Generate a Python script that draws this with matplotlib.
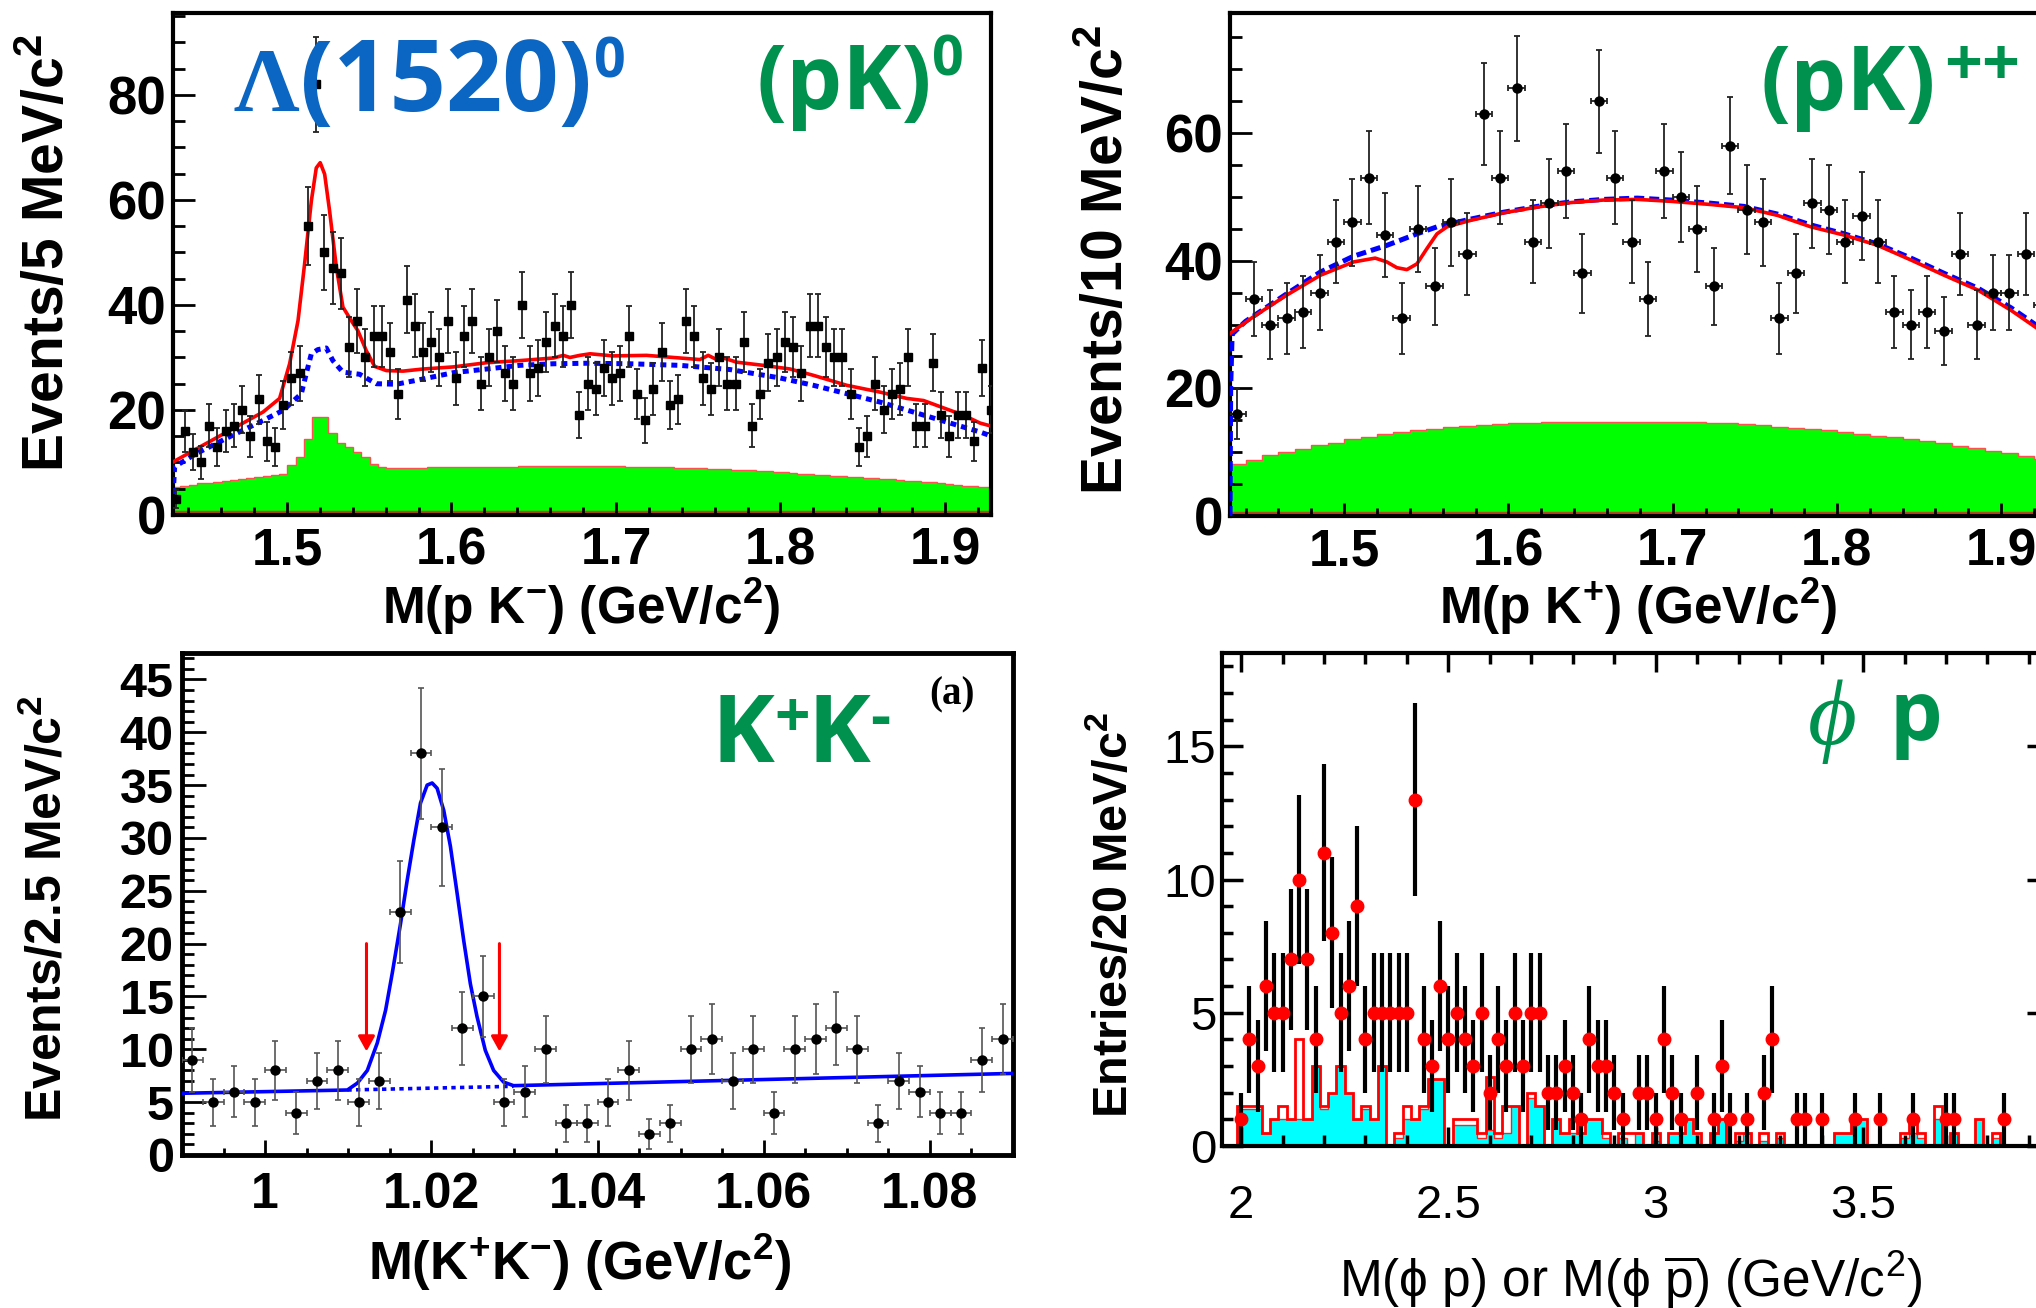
import numpy as np
import matplotlib
matplotlib.use("Agg")
import matplotlib.pyplot as plt
from matplotlib.ticker import MultipleLocator

plt.rcParams.update({
    "mathtext.fontset": "custom",
    "mathtext.default": "regular",
    "mathtext.rm": "Liberation Sans",
    "mathtext.bf": "Liberation Sans:bold",
    "mathtext.it": "Liberation Sans:italic",
    "mathtext.sf": "Liberation Sans",
})

SANS = ["Liberation Sans", "DejaVu Sans"]
NARROW = ["Liberation Sans Narrow", "Liberation Sans", "DejaVu Sans"]
LOGO = ["Open Sans", "DejaVu Sans"]
SERIF = ["Liberation Serif", "DejaVu Serif"]
GREEN = "#00914f"
BLUE_TXT = "#0a66c2"

# ---------------- top left: M(p K-) ----------------
tl_x0, tl_bw = 1.4327, 0.005
tl_counts = [3, 16, 12, 10, 17, 13, 16, 17, 20, 15,
             22, 14, 13, 21, 26, 27, 55, 82, 50, 47,
             46, 32, 37, 30, 34, 34, 31, 23, 41, 36,
             31, 33, 30, 37, 26, 34, 37, 25, 30, 35,
             27, 25, 40, 27, 28, 33, 36, 34, 40, 19,
             25, 24, 28, 26, 27, 34, 23, 18, 24, 31,
             21, 22, 37, 34, 26, 24, 30, 25, 25, 33,
             17, 23, 29, 30, 33, 32, 27, 36, 36, 32,
             30, 30, 23, 13, 15, 25, 20, 23, 24, 30,
             17, 17, 29, 19, 15, 19, 19, 14, 28, 20]
tl_bkg = [5.4, 5.6, 5.8, 6.0, 6.1, 6.3, 6.5, 6.6, 6.8, 7.0, 7.2, 7.4, 7.6, 7.9,
          9.5, 11.1, 14.4, 18.7, 18.7, 15.6, 13.7, 13.0, 12.0, 11.1, 9.8, 9.2,
          9.0, 9.0, 9.0, 9.0, 9.0, 9.1, 9.1, 9.1, 9.1, 9.1, 9.2, 9.2, 9.2, 9.2, 9.2,
          9.2, 9.3, 9.3, 9.3, 9.3, 9.3, 9.3, 9.3, 9.4, 9.4, 9.3, 9.3, 9.3, 9.3, 9.2,
          9.2, 9.2, 9.1, 9.1, 9.1, 9.0, 9.0, 8.9, 8.9, 8.8, 8.8, 8.7, 8.6, 8.6, 8.5,
          8.4, 8.3, 8.2, 8.1, 8.0, 7.9, 7.8, 7.7, 7.6, 7.5, 7.4, 7.3, 7.2, 7.1, 7.0,
          6.9, 6.8, 6.6, 6.5, 6.4, 6.3, 6.2, 6.0, 5.9, 5.8, 5.6, 5.5, 5.4, 5.3]
tl_fit_x = [1.4307, 1.449, 1.4692, 1.4854, 1.4955, 1.5016, 1.5067, 1.5107, 1.5148,
            1.5178, 1.5202, 1.5229, 1.5259, 1.530, 1.534, 1.5391, 1.5431, 1.5482,
            1.5533, 1.5604, 1.5705, 1.5827, 1.601, 1.6213, 1.6415, 1.662, 1.668,
            1.672, 1.678, 1.6843, 1.6983, 1.7186, 1.7389, 1.751, 1.7561, 1.7612,
            1.7653, 1.7734, 1.7896, 1.8059, 1.82, 1.8403, 1.8606, 1.8768, 1.887,
            1.8991, 1.9113, 1.9214, 1.9285]
tl_fit_y = [10.1, 13.3, 16.8, 19.6, 22.2, 28.8, 37.0, 47.8, 59.8,
            66.1, 67.1, 64.9, 57.9, 47.2, 39.6, 37.0, 35.1, 31.3,
            28.3, 27.5, 27.4, 27.8, 28.2, 29.0, 29.4, 29.9, 30.4,
            30.0, 30.4, 30.7, 30.3, 30.4, 29.9, 29.6, 30.4, 29.6,
            29.9, 29.1, 28.5, 27.8, 26.6, 24.7, 23.4, 22.2, 21.8,
            20.4, 19.0, 17.5, 16.9]
tl_bg_x = [1.4308, 1.4317, 1.4448, 1.4651, 1.4854, 1.4975, 1.5087, 1.5117, 1.5148,
           1.5188, 1.5239, 1.5279, 1.534, 1.5442, 1.5543, 1.5665, 1.5827, 1.601,
           1.6213, 1.6415, 1.662, 1.6823, 1.7085, 1.7389, 1.7693, 1.7997, 1.82,
           1.8403, 1.8606, 1.8809, 1.9011, 1.9214, 1.9285]
tl_bg_y = [4.0, 9.2, 11.7, 14.9, 18.0, 19.9, 23.1, 26.9, 30.7,
           31.5, 31.8, 29.4, 27.2, 26.8, 25.0, 24.9, 25.9, 27.1,
           27.8, 28.5, 28.8, 28.9, 28.8, 28.5, 27.7, 26.1, 24.7,
           23.1, 21.5, 19.6, 17.7, 15.8, 15.0]

# ---------------- top right: M(p K+) ----------------
tr_x0, tr_bw = 1.435, 0.010
tr_counts = [16, 34, 30, 31, 32, 35, 43, 46, 53, 44,
             31, 45, 36, 46, 41, 63, 53, 67, 43, 49,
             54, 38, 65, 53, 43, 34, 54, 50, 45, 36,
             58, 48, 46, 31, 38, 49, 48, 43, 47, 43,
             32, 30, 32, 29, 41, 30, 35, 35, 41, 33]
tr_bkg = [8.2, 8.8, 9.5, 10.0, 10.5, 11.1, 11.5, 12.0, 12.4, 12.8,
          13.1, 13.4, 13.7, 13.9, 14.1, 14.3, 14.4, 14.5, 14.6, 14.7,
          14.7, 14.8, 14.8, 14.8, 14.8, 14.8, 14.8, 14.7, 14.7, 14.6,
          14.5, 14.4, 14.2, 14.0, 13.8, 13.6, 13.4, 13.2, 12.9, 12.6,
          12.4, 12.1, 11.8, 11.4, 11.0, 10.6, 10.2, 9.8, 9.4, 9.0]
tr_fit_x = [1.4305, 1.4447, 1.465, 1.4854, 1.5057, 1.5189, 1.526, 1.5321, 1.5382,
            1.5443, 1.5504, 1.5565, 1.5626, 1.5768, 1.5972, 1.6175, 1.6378, 1.6581,
            1.6785, 1.6988, 1.7232, 1.7435, 1.7638, 1.7841, 1.8045, 1.8248, 1.8451,
            1.8654, 1.8858, 1.9061, 1.9264]
tr_fit_y = [28.6, 31.2, 34.6, 37.7, 39.8, 40.4, 39.8, 38.9, 38.6,
            39.5, 41.9, 44.2, 45.3, 46.3, 47.5, 48.4, 49.1, 49.5,
            49.6, 49.3, 48.8, 48.3, 47.1, 45.3, 44.0, 42.4, 40.1,
            37.7, 35.4, 32.2, 28.6]
tr_bg_x = [1.4305, 1.4309, 1.4318, 1.44, 1.465, 1.4854, 1.5057, 1.526, 1.5443,
           1.5565, 1.5768, 1.5972, 1.6175, 1.6378, 1.6581, 1.6785, 1.6988, 1.7232,
           1.7435, 1.7638, 1.7841, 1.8045, 1.8248, 1.8451, 1.8654, 1.8858, 1.9061,
           1.9264]
tr_bg_y = [0.0, 20.0, 28.5, 30.5, 34.8, 38.2, 40.7, 42.4, 44.2,
           45.3, 46.5, 47.6, 48.5, 49.2, 49.6, 49.8, 49.5, 49.0,
           48.5, 47.3, 45.6, 44.2, 42.6, 40.4, 38.0, 35.7, 32.6,
           29.0]

# ---------------- bottom left: M(K+K-) ----------------
bl_x0, bl_bw = 0.99125, 0.0025
bl_counts = [9, 5, 6, 5, 8, 4, 7, 8, 5, 7,
             23, 38, 31, 12, 15, 5, 6, 10, 3, 3,
             5, 8, 2, 3, 10, 11, 7, 10, 4, 10,
             11, 12, 10, 3, 7, 6, 4, 4, 9, 11]
bl_fit_x = [0.990, 1.0099, 1.0111, 1.0123, 1.0135, 1.0145, 1.0153, 1.0163, 1.0171,
            1.0179, 1.0187, 1.0195, 1.0201, 1.0207, 1.0215, 1.0223, 1.0231, 1.0239,
            1.0247, 1.0255, 1.0265, 1.0275, 1.0287, 1.0299, 1.090]
bl_fit_y = [5.84, 6.15, 6.8, 8.0, 10.6, 13.7, 17.2, 21.9, 26.0,
            29.8, 33.3, 35.0, 35.2, 34.7, 32.6, 29.2, 24.8, 20.3,
            16.2, 13.1, 9.9, 8.0, 6.9, 6.56, 7.72]
bl_bg_x = [1.0099, 1.0299]
bl_bg_y = [6.15, 6.5]
bl_cut_x = [1.0122, 1.0282]
bl_cut_top, bl_cut_tip = 20.0, 9.8

# ---------------- bottom right: M(phi p) ----------------
br_x0, br_bw = 2.00, 0.02
br_counts = [1, 4, 3, 6, 5, 5, 7, 10, 7, 4,
             11, 8, 5, 6, 9, 4, 5, 5, 5, 5,
             5, 13, 4, 3, 6, 4, 5, 4, 3, 5,
             2, 4, 3, 5, 3, 5, 5, 2, 2, 3,
             2, 1, 4, 3, 3, 2, 1, 0, 2, 2,
             1, 4, 2, 1, 0, 2, 0, 1, 3, 1,
             0, 1, 0, 2, 4, 0, 0, 1, 1, 0,
             1, 0, 0, 0, 1, 0, 0, 1, 0, 0,
             0, 1, 0, 0, 0, 1, 1, 0, 0, 0,
             0, 0, 1, 0, 0, 0]
br_side = [1.5, 1.5, 1.5, 0.5, 1.0, 1.5, 1.0, 4.0, 1.0, 3.0,
           1.5, 2.0, 3.0, 2.0, 1.0, 1.5, 1.0, 3.0, 0, 0.5,
           1.5, 1.0, 1.5, 2.5, 2.5, 0, 1.0, 1.0, 1.0, 0.5,
           2.6, 0.5, 1.5, 1.5, 0, 2.0, 1.5, 0, 1.0, 0.5,
           1.0, 0.5, 1.0, 1.0, 0.5, 0, 0.5, 0.5, 0.5, 0,
           0.5, 0, 0.5, 0.5, 1.0, 0.5, 0, 0.5, 1.0, 0,
           0.5, 0.5, 0, 0.5, 0, 0.5, 0, 0, 0, 0,
           0, 0, 0.5, 0.5, 1.0, 1.0, 0, 0, 0, 0,
           0.5, 1.0, 0.5, 0, 1.5, 0, 0.5, 0, 0, 1.0,
           0, 0.5, 0, 0, 0, 0]
br_mc = [1.4, 1.4, 1.4, 0.5, 1.0, 1.0, 1.0, 1.0, 1.0, 3.0,
         1.4, 2.0, 3.0, 2.0, 1.0, 1.4, 1.0, 3.0, 0, 0.3,
         1.0, 1.0, 1.4, 2.5, 2.5, 0, 0.8, 0.8, 0.8, 0.3,
         0.6, 0.3, 0.5, 1.5, 0, 1.8, 1.5, 0, 1.0, 0.5,
         0.5, 0.5, 1.0, 1.0, 0.3, 0, 0.3, 0, 0.5, 0,
         0.2, 0, 0.5, 0.5, 1.0, 0.5, 0, 0.5, 1.0, 0,
         0.2, 0.5, 0, 0.2, 0, 0.3, 0, 0, 0, 0,
         0, 0, 0.5, 0.5, 1.0, 1.0, 0, 0, 0, 0,
         0.3, 0.5, 0.3, 0, 1.0, 0, 0.5, 0, 0, 1.0,
         0, 0.3, 0, 0, 0, 0]

# ---------------- figure ----------------
W, H = 2036.0, 1308.0
fig = plt.figure(figsize=(W / 100, H / 100), dpi=100)


def box(l, t, r, b):
    return [l / W, 1 - b / H, (r - l) / W, (b - t) / H]


def put(x, y, s, **kw):
    fig.text(x / W, 1 - y / H, s, **kw)


def ticks(ax, ymaj, ymin, xmaj, xmin, w=2.0):
    ax.tick_params(which="both", direction="in", width=w)
    ax.tick_params(axis="y", which="major", length=ymaj)
    ax.tick_params(axis="y", which="minor", length=ymin)
    ax.tick_params(axis="x", which="major", length=xmaj)
    ax.tick_params(axis="x", which="minor", length=xmin)


def centers(x0, bw, n):
    return x0 + bw * np.arange(n)


# top left
ax1 = fig.add_axes(box(173, 13, 991, 515))
n = len(tl_counts)
x = centers(tl_x0, tl_bw, n)
edges = centers(tl_x0 - tl_bw / 2, tl_bw, n + 1)
ax1.stairs(tl_bkg, edges, fill=True, color="#00ff00", zorder=1)
ax1.stairs(tl_bkg, edges, color="#ff5050", lw=1.0, zorder=1.1)
ax1.axhline(0.5, color="#b04a20", lw=2.5, zorder=1.2)
ax1.plot(tl_bg_x, tl_bg_y, color="#0000ff", lw=3.6, ls=(0, (1.2, 1.0)), zorder=3)
ax1.plot(tl_fit_x, tl_fit_y, color="#ff0000", lw=2.6, zorder=4)
ax1.errorbar(x, tl_counts, yerr=np.sqrt(tl_counts), fmt="s", ms=5.5, color="black",
             ecolor="#222222", elinewidth=1.3, capsize=2.2, capthick=1.3, zorder=5)
ax1.set_xlim(1.4307, 1.928)
ax1.set_ylim(0, 95.6)

# top right
ax2 = fig.add_axes(box(1230, 13, 2048, 516))
n = len(tr_counts)
x = centers(tr_x0, tr_bw, n)
edges = centers(tr_x0 - tr_bw / 2, tr_bw, n + 1)
ax2.stairs(tr_bkg, edges, fill=True, color="#00ff00", zorder=1)
ax2.stairs(tr_bkg, edges, color="#ff5050", lw=1.0, zorder=1.1)
ax2.axhline(0.5, color="#b04a20", lw=2.5, zorder=1.2)
ax2.plot(tr_bg_x, tr_bg_y, color="#0000ff", lw=3.6, ls=(0, (2.0, 1.0)), zorder=3)
ax2.plot(tr_fit_x, tr_fit_y, color="#ff0000", lw=2.6, zorder=4)
ax2.errorbar(x, tr_counts, yerr=np.sqrt(tr_counts), xerr=tr_bw / 2, fmt="o", ms=6.5,
             color="black", ecolor="#222222", elinewidth=1.3, capsize=2.5,
             capthick=1.3, zorder=5)
ax2.set_xlim(1.4305, 1.9285)
ax2.set_ylim(0, 78.8)

for ax in (ax1, ax2):
    ax.set_xticks([1.5, 1.6, 1.7, 1.8, 1.9])
    ax.set_xticklabels(["1.5", "1.6", "1.7", "1.8", "1.9"], fontsize=37,
                       fontweight="bold", family=SANS)
    ax.xaxis.set_minor_locator(MultipleLocator(0.02))
    ax.yaxis.set_minor_locator(MultipleLocator(5))
    ticks(ax, 16, 8.5, 9.5, 5.5)
    ax.tick_params(axis="x", pad=8)
    ax.tick_params(axis="y", pad=5)
    for sp in ax.spines.values():
        sp.set_linewidth(3)
ax1.set_yticks([0, 20, 40, 60, 80])
ax1.set_yticklabels(["0", "20", "40", "60", "80"], fontsize=38, fontweight="bold", family=SANS)
ax2.set_yticks([0, 20, 40, 60])
ax2.set_yticklabels(["0", "20", "40", "60"], fontsize=38, fontweight="bold", family=SANS)

# bottom left
ax3 = fig.add_axes(box(182, 653, 1013, 1155))
n = len(bl_counts)
x = centers(bl_x0, bl_bw, n)
ax3.plot(bl_bg_x, bl_bg_y, color="#0000ff", lw=2.6, ls=(0, (1.2, 1.2)), zorder=3)
ax3.plot(bl_fit_x, bl_fit_y, color="#0000ff", lw=2.6, zorder=4)
ax3.errorbar(x, bl_counts, yerr=np.sqrt(bl_counts), xerr=bl_bw / 2, fmt="o", ms=6.5,
             color="black", ecolor="#555555", elinewidth=1.2, capsize=2.5,
             capthick=1.2, zorder=5)
for cx in bl_cut_x:
    ax3.annotate("", xy=(cx, bl_cut_tip), xytext=(cx, bl_cut_top),
                 arrowprops=dict(arrowstyle="-|>,head_width=0.25,head_length=0.45",
                                 color="#ff0000", lw=2.2, shrinkA=0, shrinkB=0,
                                 mutation_scale=20), zorder=6)
ax3.set_xlim(0.990, 1.090)
ax3.set_ylim(0, 47.5)
ax3.set_xticks([1.0, 1.02, 1.04, 1.06, 1.08])
ax3.set_xticklabels(["1", "1.02", "1.04", "1.06", "1.08"], fontsize=36,
                    fontweight="bold", family=SANS)
ax3.set_yticks(list(range(0, 50, 5)))
ax3.set_yticklabels([str(v) for v in range(0, 50, 5)], fontsize=35,
                    fontweight="bold", family=SANS)
ax3.xaxis.set_minor_locator(MultipleLocator(0.005))
ax3.yaxis.set_minor_locator(MultipleLocator(1))
ticks(ax3, 17, 8.5, 11, 5)
ax3.tick_params(axis="x", pad=12)
ax3.tick_params(axis="y", pad=6)
for sp in ax3.spines.values():
    sp.set_linewidth(3.5)

# bottom right
ax4 = fig.add_axes(box(1222, 653, 2048, 1146))
n = len(br_counts)
edges = centers(br_x0 - br_bw / 2, br_bw, n + 1)
ax4.stairs(br_mc, edges, fill=True, color="#00ffff", zorder=1)
ax4.stairs(br_mc, edges, color="#ff2020", lw=1.0, zorder=1.1)
ax4.stairs(br_side, edges, color="#ff0000", lw=2.0, zorder=1.2)
cnt = np.array(br_counts, dtype=float)
x = centers(br_x0, br_bw, n)
m = cnt > 0
ax4.errorbar(x[m], cnt[m], yerr=np.sqrt(cnt[m]), fmt="o", ms=9, color="#ff0000",
             mec="#ff0000", ecolor="black", elinewidth=3.0, capsize=0, zorder=5)
ax4.set_xlim(1.954, 3.946)
ax4.set_ylim(0, 18.5)
ax4.set_xticks([2, 2.5, 3, 3.5])
ax4.set_xticklabels(["2", "2.5", "3", "3.5"], fontsize=34, family=NARROW)
ax4.set_yticks([0, 5, 10, 15])
ax4.set_yticklabels(["0", "5", "10", "15"], fontsize=34, family=NARROW)
ax4.xaxis.set_minor_locator(MultipleLocator(0.1))
ax4.yaxis.set_minor_locator(MultipleLocator(1))
ticks(ax4, 15, 8, 14, 8, w=2.5)
ax4.tick_params(which="both", top=True, right=True)
ax4.tick_params(axis="x", pad=27)
ax4.tick_params(axis="y", pad=4)
for sp in ax4.spines.values():
    sp.set_linewidth(3)

# axis titles
put(581, 607, "M(p K$^{-}$) (GeV/c$^{2}$)", ha="center", va="center", fontsize=37,
    fontweight="bold", family=SANS)
put(49, 253, "Events/5 MeV/c$^{2}$", ha="center", va="center", rotation=90,
    fontsize=41, fontweight="bold", family=SANS)
put(1638, 607, "M(p K$^{+}$) (GeV/c$^{2}$)", ha="center", va="center", fontsize=37,
    fontweight="bold", family=SANS)
put(1108, 260, "Events/10 MeV/c$^{2}$", ha="center", va="center", rotation=90,
    fontsize=41, fontweight="bold", family=SANS)
put(580, 1262, "M(K$^{+}$K$^{-}$) (GeV/c$^{2}$)", ha="center", va="center", fontsize=38,
    fontweight="bold", family=SANS)
put(47, 909, "Events/2.5 MeV/c$^{2}$", ha="center", va="center", rotation=90,
    fontsize=36, fontweight="bold", family=SANS)
put(1631, 1280, r"M(ϕ p) or M(ϕ $\overline{p}$) (GeV/c$^{2}$)", ha="center", va="center",
    fontsize=37, family=NARROW)
put(1114, 915, "Entries/20 MeV/c$^{2}$", ha="center", va="center", rotation=90,
    fontsize=35, fontweight="bold", family=NARROW)

# channel tags
put(233, 111, "Λ", ha="left", va="baseline", fontsize=66, fontweight="bold",
    family=SERIF, color=BLUE_TXT)
put(300, 111, "(1520)", ha="left", va="baseline", fontsize=71, fontweight="bold",
    family=LOGO, color=BLUE_TXT)
put(594, 77, "0", ha="left", va="baseline", fontsize=40, fontweight="bold",
    family=LOGO, color=BLUE_TXT)
put(756, 109, "(pK)", ha="left", va="baseline", fontsize=64, fontweight="bold",
    family=LOGO, color=GREEN)
put(932, 75, "0", ha="left", va="baseline", fontsize=40, fontweight="bold",
    family=LOGO, color=GREEN)
put(1760, 110, "(pK)", ha="left", va="baseline", fontsize=64, fontweight="bold",
    family=LOGO, color=GREEN)
put(1944, 85, "++", ha="left", va="baseline", fontsize=48, fontweight="bold",
    family=LOGO, color=GREEN)
put(712, 762, "K", ha="left", va="baseline", fontsize=68, fontweight="bold",
    family=LOGO, color=GREEN)
put(774, 737, "+", ha="left", va="baseline", fontsize=45, fontweight="bold",
    family=LOGO, color=GREEN)
put(808, 762, "K", ha="left", va="baseline", fontsize=68, fontweight="bold",
    family=LOGO, color=GREEN)
put(870, 737, "-", ha="left", va="baseline", fontsize=45, fontweight="bold",
    family=LOGO, color=GREEN)
put(952, 695, "(a)", ha="center", va="center", fontsize=28, fontweight="bold",
    family=SERIF, color="black")
put(1808, 722, "ϕ", ha="left", va="center", fontsize=68, style="italic",
    family=SERIF, color=GREEN)
put(1890, 740, "p", ha="left", va="baseline", fontsize=60, fontweight="bold",
    family=LOGO, color=GREEN)

fig.savefig("out.png", dpi=100)
